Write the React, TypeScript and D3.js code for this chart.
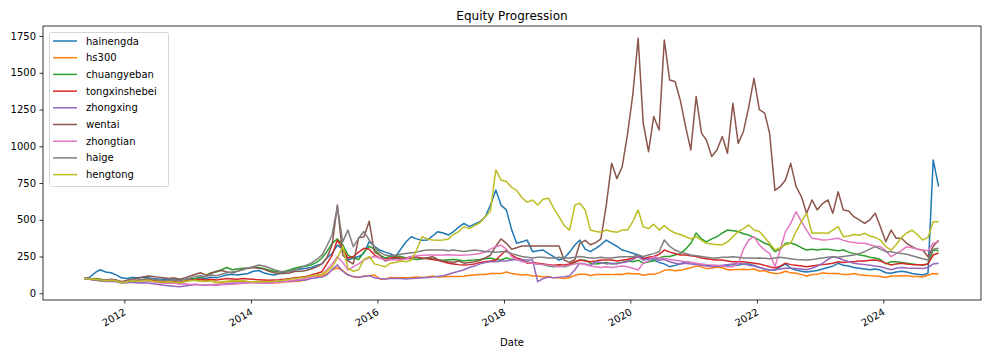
import React, { useEffect, useRef } from 'react'
import * as d3 from 'd3'

// monthly readings, May 2011 .. Nov 2024 (one row per calendar year)
const hainengda = [
  100, 110, 140, 160, 145, 140, 125, 105,
  100, 108, 105, 110, 105, 100, 98, 95, 98, 95, 92, 95,
  98, 100, 105, 100, 110, 105, 115, 125, 130, 125, 130, 135,
  150, 155, 140, 130, 125, 135, 145, 150, 160, 165, 170, 175,
  190, 200, 240, 272, 328, 300, 226, 240, 250, 272, 351, 320,
  294, 280, 270, 249, 300, 351, 385, 370, 360, 362, 390, 419,
  410, 396, 420, 450, 476, 453, 470, 487, 520, 600, 703, 600,
  567, 430, 340, 350, 362, 283, 290, 294, 270, 250, 226, 240,
  280, 328, 362, 300, 283, 306, 330, 362, 340, 320, 294, 285,
  272, 260, 240, 230, 226, 210, 200, 181, 190, 200, 215, 210,
  200, 195, 190, 185, 181, 185, 190, 195, 190, 200, 200, 190,
  175, 165, 158, 158, 180, 200, 170, 158, 150, 145, 150, 155,
  165, 175, 185, 204, 190, 185, 175, 170, 165, 160, 165, 158,
  140, 136, 145, 150, 145, 135, 130, 125, 136, 907, 725,
]

const hs300 = [
  100, 101, 98, 94, 85, 90, 86, 78,
  82, 88, 82, 88, 88, 82, 78, 73, 76, 75, 71, 84,
  90, 89, 83, 82, 87, 72, 74, 79, 80, 80, 82, 78,
  73, 73, 72, 72, 72, 72, 78, 78, 82, 84, 94, 118,
  114, 119, 133, 160, 172, 155, 127, 112, 107, 118, 119, 124,
  98, 96, 107, 105, 106, 105, 107, 111, 108, 111, 118, 110,
  113, 115, 115, 115, 116, 122, 125, 127, 128, 134, 134, 134,
  145, 134, 130, 125, 127, 117, 117, 111, 115, 105, 106, 100,
  107, 122, 129, 130, 121, 128, 128, 127, 127, 130, 128, 137,
  133, 133, 123, 130, 129, 139, 156, 161, 153, 156, 165, 174,
  185, 180, 168, 171, 178, 174, 160, 160, 162, 164, 161, 165,
  152, 153, 141, 134, 136, 150, 139, 136, 127, 117, 128, 129,
  139, 135, 135, 134, 127, 128, 134, 126, 123, 119, 117, 114,
  107, 117, 118, 120, 119, 115, 115, 111, 123, 135, 131,
]

const chuangyeban = [
  100, 98, 100, 95, 88, 92, 85, 72,
  78, 88, 85, 92, 95, 90, 80, 75, 78, 75, 70, 80,
  90, 100, 110, 115, 140, 145, 160, 175, 160, 165, 170, 170,
  179, 175, 168, 158, 150, 145, 150, 160, 172, 180, 185, 193,
  210, 240, 283, 340, 370, 330, 260, 240, 230, 280, 320, 300,
  260, 240, 250, 255, 250, 240, 235, 230, 235, 240, 235, 225,
  225, 228, 230, 226, 220, 225, 226, 230, 235, 240, 230, 226,
  240, 230, 235, 225, 215, 205, 200, 195, 185, 180, 185, 180,
  190, 210, 226, 225, 205, 200, 205, 210, 200, 205, 210, 220,
  215, 225, 205, 215, 220, 240, 250, 250, 260, 270, 300, 340,
  410, 370, 350, 370, 385, 410, 430, 425, 420, 405, 396, 380,
  362, 340, 328, 283, 300, 340, 342, 330, 310, 294, 300, 294,
  300, 300, 295, 290, 294, 280, 270, 260, 255, 245, 240, 230,
  200, 215, 215, 210, 205, 200, 195, 193, 200, 294, 290,
]

const tongxinshebei = [
  100, 98, 95, 92, 85, 90, 88, 78,
  82, 88, 85, 90, 92, 88, 82, 78, 80, 78, 75, 82,
  88, 92, 95, 90, 95, 90, 95, 100, 98, 95, 100, 98,
  95, 92, 90, 88, 90, 92, 95, 100, 105, 110, 115, 125,
  135, 147, 200, 260, 362, 300, 240, 250, 280, 306, 300, 260,
  240, 230, 240, 245, 240, 235, 240, 245, 240, 235, 230, 225,
  215, 205, 200, 195, 193, 195, 200, 210, 215, 220, 226, 260,
  294, 260, 240, 230, 205, 210, 205, 200, 195, 190, 195, 193,
  200, 215, 226, 220, 215, 220, 226, 226, 226, 220, 225, 230,
  240, 250, 235, 245, 250, 265, 294, 280, 270, 260, 260, 255,
  250, 240, 235, 230, 226, 226, 220, 215, 215, 215, 210, 205,
  200, 190, 180, 172, 185, 205, 195, 190, 185, 180, 185, 190,
  195, 200, 205, 215, 210, 215, 215, 220, 220, 225, 226, 220,
  205, 193, 200, 205, 200, 195, 195, 193, 200, 260, 274,
]

const zhongxing = [
  100, 95, 90, 85, 80, 82, 78, 70,
  72, 75, 70, 72, 70, 65, 60, 55, 52, 48, 45, 50,
  55, 60, 58, 55, 60, 58, 62, 65, 68, 70, 72, 75,
  75, 72, 70, 72, 75, 78, 80, 82, 85, 88, 90, 100,
  105, 110, 125, 160, 193, 150, 124, 115, 110, 115, 120, 105,
  100, 98, 100, 102, 100, 98, 100, 102, 105, 108, 110, 115,
  120, 130, 140, 150, 160, 175, 185, 200, 210, 215, 215, 220,
  220, 226, 230, 226, 226, 226, 79, 100, 110, 105, 110, 113,
  120, 160, 205, 200, 190, 215, 210, 200, 205, 200, 210, 215,
  230, 250, 225, 235, 240, 225, 230, 215, 205, 200, 205, 200,
  195, 190, 185, 181, 185, 190, 195, 200, 205, 200, 190, 185,
  175, 165, 158, 160, 165, 170, 170, 168, 165, 160, 170, 185,
  204, 230, 249, 240, 226, 215, 205, 200, 195, 190, 185, 181,
  170, 160, 170, 175, 172, 170, 170, 168, 175, 200, 205,
]

const wentai = [
  100, 95, 90, 85, 88, 95, 90, 78,
  88, 95, 100, 110, 118, 115, 110, 105, 100, 105, 95, 105,
  118, 130, 140, 125, 135, 150, 155, 145, 140, 150, 165, 170,
  175, 170, 165, 150, 140, 135, 135, 140, 150, 150, 155, 165,
  180, 200, 240, 330, 600, 260, 220, 200, 380, 383, 490, 280,
  260, 220, 230, 240, 230, 240, 250, 245, 235, 240, 250, 230,
  220, 215, 210, 220, 205, 210, 215, 225, 240, 260, 320, 370,
  340, 300, 310, 322, 322, 322, 322, 322, 322, 322, 322, 226,
  210, 230, 340, 360, 330, 345, 370, 600, 885, 780, 861, 1077,
  1349, 1734, 1160, 963, 1202, 1111, 1723, 1451, 1440, 1315, 1134, 975,
  1338, 1089, 1043, 930, 975, 1066, 952, 1293, 1020, 1100, 1270, 1462,
  1250, 1225, 1090, 700, 725, 771, 884, 725, 657, 544, 635, 567,
  610, 635, 544, 691, 567, 560, 521, 500, 476, 500, 544, 453,
  351, 430, 374, 374, 340, 317, 300, 294, 249, 320, 360,
]

const zhongtian = [
  100, 95, 92, 88, 85, 88, 85, 75,
  80, 85, 82, 85, 82, 78, 72, 68, 70, 68, 62, 65,
  60, 62, 58, 56, 58, 55, 58, 60, 62, 65, 68, 70,
  72, 70, 68, 70, 72, 75, 80, 85, 90, 95, 100, 110,
  120, 130, 160, 200, 249, 210, 158, 180, 200, 226, 240, 250,
  240, 226, 230, 226, 226, 235, 249, 255, 258, 260, 260, 258,
  260, 262, 260, 258, 260, 262, 265, 270, 280, 300, 317, 328,
  300, 249, 230, 215, 210, 205, 200, 195, 190, 185, 180, 185,
  190, 200, 205, 195, 185, 180, 175, 180, 175, 180, 185, 180,
  170, 158, 205, 220, 249, 240, 237, 230, 225, 220, 215, 210,
  205, 200, 195, 193, 190, 185, 181, 181, 200, 300, 363, 385,
  328, 294, 272, 181, 294, 420, 476, 555, 487, 430, 374, 370,
  362, 365, 370, 374, 360, 350, 345, 340, 340, 330, 320, 317,
  290, 249, 270, 290, 317, 310, 300, 294, 290, 340, 351,
]

const haige = [
  100, 95, 92, 88, 85, 88, 85, 75,
  82, 90, 88, 95, 100, 95, 90, 85, 88, 90, 85, 95,
  105, 115, 120, 115, 125, 120, 130, 140, 145, 150, 160, 172,
  180, 193, 185, 175, 160, 150, 145, 150, 160, 175, 190, 205,
  230, 260, 320, 400, 590, 350, 430, 317, 374, 420, 363, 317,
  280, 260, 255, 260, 265, 270, 275, 280, 290, 294, 294, 294,
  294, 290, 294, 290, 285, 290, 294, 290, 285, 283, 280, 283,
  283, 270, 260, 250, 245, 240, 245, 245, 240, 240, 245, 240,
  240, 245, 250, 245, 240, 240, 245, 240, 240, 245, 249, 249,
  249, 260, 250, 260, 270, 283, 363, 320, 294, 280, 270, 260,
  255, 250, 245, 240, 240, 245, 245, 249, 245, 240, 240, 238,
  240, 238, 235, 240, 245, 240, 235, 230, 228, 226, 230, 235,
  240, 245, 249, 245, 250, 255, 260, 270, 283, 300, 317, 300,
  283, 283, 275, 270, 265, 255, 245, 235, 226, 300, 307,
]

const hengtong = [
  100, 98, 95, 90, 85, 88, 85, 72,
  78, 85, 82, 85, 88, 82, 78, 75, 78, 76, 72, 80,
  85, 88, 82, 80, 85, 75, 78, 82, 85, 83, 85, 80,
  78, 80, 78, 80, 82, 85, 90, 95, 100, 105, 110, 120,
  125, 130, 150, 180, 240, 320, 170, 150, 160, 230, 250, 200,
  190, 180, 205, 210, 220, 215, 226, 294, 385, 370, 362, 360,
  362, 370, 400, 420, 453, 440, 460, 480, 520, 560, 839, 770,
  760, 720, 700, 650, 620, 635, 600, 640, 647, 580, 521, 460,
  430, 600, 612, 567, 430, 420, 415, 430, 420, 415, 430, 430,
  487, 567, 453, 440, 470, 430, 460, 430, 410, 400, 385, 370,
  385, 360, 340, 335, 330, 330, 350, 385, 420, 440, 465, 430,
  420, 380, 340, 294, 310, 330, 340, 420, 487, 545, 408, 410,
  410, 408, 430, 453, 385, 390, 400, 395, 408, 390, 380, 362,
  317, 294, 330, 380, 410, 430, 400, 362, 380, 487, 487,
]

const seriesNames = ['hainengda', 'hs300', 'chuangyeban', 'tongxinshebei', 'zhongxing', 'wentai', 'zhongtian', 'haige', 'hengtong']
const seriesValues = [hainengda, hs300, chuangyeban, tongxinshebei, zhongxing, wentai, zhongtian, haige, hengtong]
const colors = ['#1f77b4', '#ff7f0e', '#2ca02c', '#d62728', '#9467bd', '#8c564b', '#e377c2', '#7f7f7f', '#bcbd22']
const yTicks = [0, 250, 500, 750, 1000, 1250, 1500, 1750]
const xTickYears = [2012, 2014, 2016, 2018, 2020, 2022, 2024]

const W = 991, H = 354
const plot = { left: 43, right: 981, top: 26, bottom: 300 }
const font = 'DejaVu Sans, sans-serif'

export default function App() {
  const ref = useRef<SVGSVGElement>(null)

  useEffect(() => {
    document.body.style.margin = '0'
    const svg = d3.select(ref.current)
    svg.selectAll('*').remove()

    const dates = d3.timeMonth.range(new Date(2011, 4, 1), new Date(2024, 11, 1))
      .map(d => d3.timeDay.offset(d, 14))

    const x = d3.scaleTime()
      .domain([new Date(2010, 8, 18), new Date(2025, 6, 18)])
      .range([plot.left, plot.right])
    const y = d3.scaleLinear()
      .domain([-45.6, 1818])
      .range([plot.bottom, plot.top])

    svg.append('rect').attr('width', W).attr('height', H).attr('fill', '#fff')

    const line = d3.line<number>()
      .x((d, i) => x(dates[i]))
      .y(d => y(d))

    svg.append('g')
      .selectAll('path')
      .data(seriesValues)
      .join('path')
      .attr('d', d => line(d))
      .attr('fill', 'none')
      .attr('stroke', (d, i) => colors[i])
      .attr('stroke-width', 1.5)
      .attr('stroke-linejoin', 'round')

    // x axis
    const xAxis = svg.append('g')
      .attr('transform', `translate(0,${plot.bottom})`)
      .call(d3.axisBottom(x)
        .tickValues(xTickYears.map(yr => new Date(yr, 0, 1)))
        .tickFormat(d3.timeFormat('%Y') as any)
        .tickSize(3.5)
        .tickSizeOuter(0))
    xAxis.select('.domain').remove()
    xAxis.selectAll('line').attr('stroke', '#000').attr('stroke-width', 0.8)
    xAxis.selectAll('text')
      .attr('font-family', font)
      .attr('font-size', 10)
      .attr('fill', '#000')
      .attr('text-anchor', 'end')
      .attr('dy', null)
      .attr('y', null)
      .attr('transform', 'translate(2,14) rotate(-30)')

    // y axis
    const yAxis = svg.append('g')
      .attr('transform', `translate(${plot.left},0)`)
      .call(d3.axisLeft(y).tickValues(yTicks).tickFormat(d3.format('d')).tickSize(3.5).tickPadding(3.5))
    yAxis.select('.domain').remove()
    yAxis.selectAll('line').attr('stroke', '#000').attr('stroke-width', 0.8)
    yAxis.selectAll('text')
      .attr('font-family', font)
      .attr('font-size', 10)
      .attr('fill', '#000')

    svg.append('rect')
      .attr('x', plot.left).attr('y', plot.top)
      .attr('width', plot.right - plot.left).attr('height', plot.bottom - plot.top)
      .attr('fill', 'none').attr('stroke', '#000').attr('stroke-width', 0.8)

    svg.append('text')
      .attr('x', (plot.left + plot.right) / 2).attr('y', 20)
      .attr('text-anchor', 'middle')
      .attr('font-family', font).attr('font-size', 12)
      .text('Equity Progression')

    svg.append('text')
      .attr('x', (plot.left + plot.right) / 2).attr('y', 346)
      .attr('text-anchor', 'middle')
      .attr('font-family', font).attr('font-size', 10)
      .text('Date')

    // legend
    const lg = svg.append('g').attr('transform', 'translate(49.5,32.5)')
    lg.append('rect')
      .attr('width', 119).attr('height', 154).attr('rx', 2)
      .attr('fill', '#fff').attr('fill-opacity', 0.8)
      .attr('stroke', '#d6d6d6').attr('stroke-width', 1)
    const items = lg.selectAll('g.item')
      .data(seriesNames)
      .join('g')
      .attr('class', 'item')
      .attr('transform', (d, i) => `translate(0,${8.5 + i * 16.7})`)
    items.append('line')
      .attr('x1', 3.5).attr('x2', 27.5)
      .attr('stroke', (d, i) => colors[i]).attr('stroke-width', 1.5)
    items.append('text')
      .attr('x', 36.5).attr('dy', '0.35em')
      .attr('font-family', font).attr('font-size', 10)
      .text(d => d)
  }, [])

  return <svg ref={ref} width={W} height={H} style={{ display: 'block' }} />
}
